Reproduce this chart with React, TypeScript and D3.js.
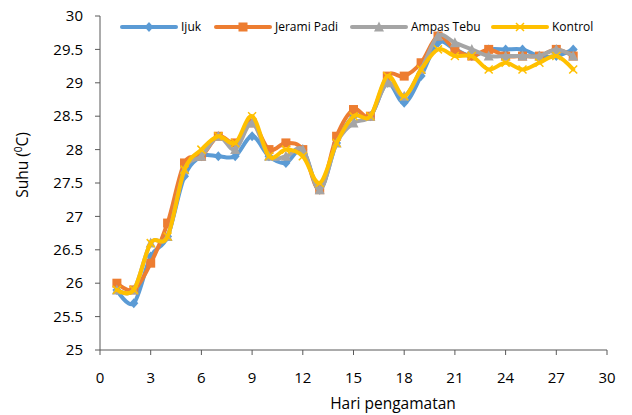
import React from "react";
import * as d3 from "d3";

const days = [1,2,3,4,5,6,7,8,9,10,11,12,13,14,15,16,17,18,19,20,21,22,23,24,25,26,27,28];
const ijuk = [25.9,25.7,26.4,26.7,27.6,27.9,27.9,27.9,28.2,27.9,27.8,28.0,27.4,28.1,28.5,28.5,29.0,28.7,29.1,29.6,29.5,29.4,29.5,29.5,29.5,29.4,29.4,29.5];
const jeramiPadi = [26.0,25.9,26.3,26.9,27.8,27.9,28.2,28.1,28.4,28.0,28.1,28.0,27.4,28.2,28.6,28.5,29.1,29.1,29.3,29.7,29.5,29.4,29.5,29.4,29.4,29.4,29.5,29.4];
const ampasTebu = [25.9,25.9,26.6,26.7,27.7,27.9,28.2,28.0,28.4,27.9,27.9,28.0,27.4,28.1,28.4,28.5,29.0,28.8,29.2,29.7,29.6,29.5,29.4,29.4,29.4,29.4,29.5,29.4];
const kontrol = [25.9,25.9,26.6,26.7,27.7,28.0,28.2,28.1,28.5,27.9,28.0,27.9,27.5,28.1,28.5,28.5,29.1,28.8,29.2,29.5,29.4,29.4,29.2,29.3,29.2,29.3,29.4,29.2];
const seriesNames = ["Ijuk", "Jerami Padi", "Ampas Tebu", "Kontrol"];
const xTicks = [0,3,6,9,12,15,18,21,24,27,30];
const yTicks = [25,25.5,26,26.5,27,27.5,28,28.5,29,29.5,30];

const colors = ["#5B9BD5", "#ED7D31", "#A5A5A5", "#FFC000"];
const markers = ["diamond", "square", "triangle", "x"];
const FONT = "'Open Sans', sans-serif";

function Marker({ type, x, y, color }: { type: string; x: number; y: number; color: string }) {
  const s = 4.5;
  if (type === "diamond") return <path d={`M${x},${y - s - 0.5}L${x + s},${y}L${x},${y + s + 0.5}L${x - s},${y}Z`} fill={color} />;
  if (type === "square") return <rect x={x - s} y={y - s} width={2 * s} height={2 * s} fill={color} />;
  if (type === "triangle") return <path d={`M${x},${y - s - 1}L${x + s + 0.5},${y + s}L${x - s - 0.5},${y + s}Z`} fill={color} />;
  return <path d={`M${x - 4},${y - 4}L${x + 4},${y + 4}M${x + 4},${y - 4}L${x - 4},${y + 4}`} stroke={color} strokeWidth={1.5} />;
}

export default function App() {
  const W = 632, H = 415;
  const x = d3.scaleLinear().domain([0, 30]).range([100, 607]);
  const y = d3.scaleLinear().domain([25, 30]).range([350, 16]);
  const all = [ijuk, jeramiPadi, ampasTebu, kontrol];
  const line = d3.line<number>().x((_, i) => x(days[i])).y((d) => y(d)).curve(d3.curveCardinal.tension(0));
  const legendX = [122, 216, 352, 493];
  const legendY = 27;
  return (
    <svg width={W} height={H} style={{ position: "absolute", left: 0, top: 0, background: "#fff" }}>
      {/* y axis */}
      <line x1={x(0)} x2={x(0)} y1={y(30)} y2={y(25)} stroke="#595959" strokeWidth={1} />
      {yTicks.map((t) => (
        <g key={t}>
          <line x1={x(0) - 5} x2={x(0)} y1={y(t)} y2={y(t)} stroke="#595959" />
          <text x={83} y={y(t)} dy="0.35em" textAnchor="end" fontFamily={FONT} fontSize={15} fill="#000">{t}</text>
        </g>
      ))}
      {/* x axis */}
      <line x1={x(0)} x2={x(30)} y1={y(25)} y2={y(25)} stroke="#595959" />
      {xTicks.map((t) => (
        <g key={t}>
          <line x1={x(t)} x2={x(t)} y1={y(25)} y2={y(25) + 5} stroke="#595959" />
          <text x={x(t)} y={383} textAnchor="middle" fontFamily={FONT} fontSize={15} fill="#000">{t}</text>
        </g>
      ))}
      <text x={393} y={409} textAnchor="middle" fontFamily={FONT} fontSize={15.5} fill="#000">Hari pengamatan</text>
      <text transform={`translate(28,165) rotate(-90)`} textAnchor="middle" fontFamily={FONT} fontSize={15.5} fill="#000">
        Suhu (<tspan fontSize={10} dy="-6">0</tspan><tspan dy="6">C)</tspan>
      </text>
      {/* series */}
      {all.map((vals, si) => (
        <g key={si}>
          <path d={line(vals) || ""} fill="none" stroke={colors[si]} strokeWidth={4} strokeLinejoin="round" strokeLinecap="round" />
          {vals.map((v, i) => (
            <Marker key={i} type={markers[si]} x={x(days[i])} y={y(v)} color={colors[si]} />
          ))}
        </g>
      ))}
      {/* legend */}
      {seriesNames.map((n, i) => (
        <g key={n}>
          <line x1={legendX[i]} x2={legendX[i] + 54} y1={legendY} y2={legendY} stroke={colors[i]} strokeWidth={4} strokeLinecap="round" />
          <Marker type={markers[i]} x={legendX[i] + 27} y={legendY} color={colors[i]} />
          <text x={legendX[i] + 59} y={legendY} dy="0.35em" fontFamily={FONT} fontSize={12} fill="#000">{n}</text>
        </g>
      ))}
    </svg>
  );
}
